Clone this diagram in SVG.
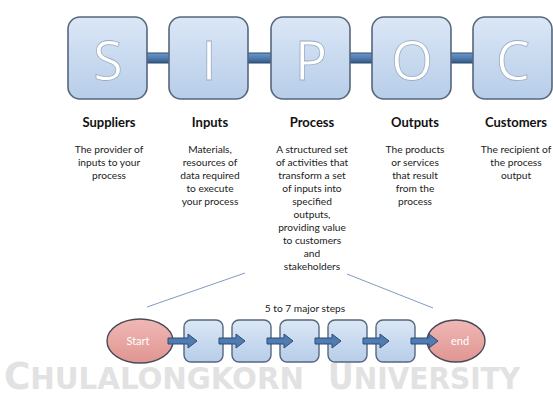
<svg xmlns="http://www.w3.org/2000/svg" width="553" height="394" viewBox="0 0 553 394">
<defs>
<linearGradient id="gBox" x1="0" y1="0" x2="0" y2="1">
<stop offset="0" stop-color="#dbe7f6"/>
<stop offset="1" stop-color="#b7cde9"/>
</linearGradient>
<linearGradient id="gBar" x1="0" y1="0" x2="0" y2="1">
<stop offset="0" stop-color="#6f98c8"/>
<stop offset="0.5" stop-color="#4f7cb3"/>
<stop offset="1" stop-color="#34587f"/>
</linearGradient>
<linearGradient id="gPink" x1="0" y1="0" x2="0" y2="1">
<stop offset="0" stop-color="#f0b8b5"/>
<stop offset="1" stop-color="#e09591"/>
</linearGradient>
</defs>
<style>
.big{fill:url(#gBox);stroke:#55677c;stroke-width:1.6}
.letter{font-family:"Open Sans","Liberation Sans",sans-serif;font-size:54px;fill:#ffffff;stroke:#9aacc2;stroke-width:0.8;text-anchor:middle}
.bar{fill:url(#gBar);stroke:#2d4c70;stroke-width:1}
.hd{font-family:Lato,"Liberation Sans",sans-serif;font-weight:bold;font-size:13px;fill:#111;text-anchor:middle}
.bd{font-family:Lato,"Liberation Sans",sans-serif;font-size:10.2px;fill:#222;text-anchor:middle}
.small{fill:url(#gBox);stroke:#55677c;stroke-width:1.4}
.oval{fill:url(#gPink);stroke:#4a4a58;stroke-width:1.4}
.ot{font-family:Lato,"Liberation Sans",sans-serif;font-size:11px;fill:#ffffff;text-anchor:middle}
.arrow{fill:#4f7cb3;stroke:#2d4c70;stroke-width:1}
.ln{stroke:#7f9cc0;stroke-width:1;fill:none}
.wm{font-family:"DejaVu Sans Condensed","Liberation Sans",sans-serif;font-weight:bold;fill:#e2e2e2}
</style>

<g id="watermark">
<text class="wm" x="4" y="389" font-size="31" textLength="300" lengthAdjust="spacingAndGlyphs"><tspan font-size="38">C</tspan>HULALONGKORN</text>
<text class="wm" x="328" y="389" font-size="31" textLength="192" lengthAdjust="spacingAndGlyphs"><tspan font-size="35">U</tspan>NIVERSITY</text>
</g>

<g id="connectors">
<rect class="bar" x="143" y="53" width="33" height="10"/>
<rect class="bar" x="244" y="53" width="33" height="10"/>
<rect class="bar" x="346" y="53" width="32" height="10"/>
<rect class="bar" x="447" y="53" width="32" height="10"/>
<line class="ln" x1="147" y1="307" x2="245" y2="273"/>
<line class="ln" x1="347" y1="274" x2="433" y2="308"/>
</g>

<g id="node-S">
<rect class="big" x="68" y="17" width="79" height="82" rx="12"/>
<text class="letter" x="108" y="80">S</text>
</g>
<g id="node-I">
<rect class="big" x="169" y="17" width="79" height="82" rx="12"/>
<text class="letter" x="209" y="80">I</text>
</g>
<g id="node-P">
<rect class="big" x="271" y="17" width="79" height="82" rx="12"/>
<text class="letter" x="311" y="80">P</text>
</g>
<g id="node-O">
<rect class="big" x="372" y="17" width="79" height="82" rx="12"/>
<text class="letter" x="412" y="80">O</text>
</g>
<g id="node-C">
<rect class="big" x="473" y="17" width="79" height="82" rx="12"/>
<text class="letter" x="513" y="80">C</text>
</g>

<g id="col-suppliers">
<text class="hd" x="109" y="127">Suppliers</text>
<text class="bd" x="109" y="153">The provider of</text>
<text class="bd" x="109" y="166">inputs to your</text>
<text class="bd" x="109" y="179">process</text>
</g>
<g id="col-inputs">
<text class="hd" x="210" y="127">Inputs</text>
<text class="bd" x="210" y="153">Materials,</text>
<text class="bd" x="210" y="166">resources of</text>
<text class="bd" x="210" y="179">data required</text>
<text class="bd" x="210" y="192">to execute</text>
<text class="bd" x="210" y="205">your process</text>
</g>
<g id="col-process">
<text class="hd" x="312" y="127">Process</text>
<text class="bd" x="312" y="153">A structured set</text>
<text class="bd" x="312" y="166">of activities that</text>
<text class="bd" x="312" y="179">transform a set</text>
<text class="bd" x="312" y="192">of inputs into</text>
<text class="bd" x="312" y="205">specified</text>
<text class="bd" x="312" y="218">outputs,</text>
<text class="bd" x="312" y="231">providing value</text>
<text class="bd" x="312" y="244">to customers</text>
<text class="bd" x="312" y="257">and</text>
<text class="bd" x="312" y="270">stakeholders</text>
</g>
<g id="col-outputs">
<text class="hd" x="415" y="127">Outputs</text>
<text class="bd" x="415" y="153">The products</text>
<text class="bd" x="415" y="166">or services</text>
<text class="bd" x="415" y="179">that result</text>
<text class="bd" x="415" y="192">from the</text>
<text class="bd" x="415" y="205">process</text>
</g>
<g id="col-customers">
<text class="hd" x="516" y="127">Customers</text>
<text class="bd" x="516" y="153">The recipient of</text>
<text class="bd" x="516" y="166">the process</text>
<text class="bd" x="516" y="179">output</text>
</g>

<g id="steps-label">
<text class="bd" x="305" y="312" font-size="12">5 to 7 major steps</text>
</g>

<g id="node-start">
<ellipse class="oval" cx="140" cy="341" rx="33" ry="22"/>
<text class="ot" x="138" y="345">Start</text>
</g>
<g id="node-step1"><rect class="small" x="184" y="320" width="39" height="42" rx="7"/></g>
<g id="node-step2"><rect class="small" x="232" y="320" width="39" height="42" rx="7"/></g>
<g id="node-step3"><rect class="small" x="280" y="320" width="39" height="42" rx="7"/></g>
<g id="node-step4"><rect class="small" x="328" y="320" width="39" height="42" rx="7"/></g>
<g id="node-step5"><rect class="small" x="376" y="320" width="39" height="42" rx="7"/></g>
<g id="node-end">
<ellipse class="oval" cx="456" cy="341" rx="29" ry="21"/>
<text class="ot" x="460" y="345">end</text>
</g>

<g id="step-arrows">
<path class="arrow" d="M168,338 H188 V334 L197,341 L188,348 V344 H168 Z"/>
<path class="arrow" d="M219,338 H236 V334 L245,341 L236,348 V344 H219 Z"/>
<path class="arrow" d="M267,338 H284 V334 L293,341 L284,348 V344 H267 Z"/>
<path class="arrow" d="M315,338 H332 V334 L341,341 L332,348 V344 H315 Z"/>
<path class="arrow" d="M363,338 H380 V334 L389,341 L380,348 V344 H363 Z"/>
<path class="arrow" d="M411,338 H429 V334 L438,341 L429,348 V344 H411 Z"/>
</g>
</svg>
